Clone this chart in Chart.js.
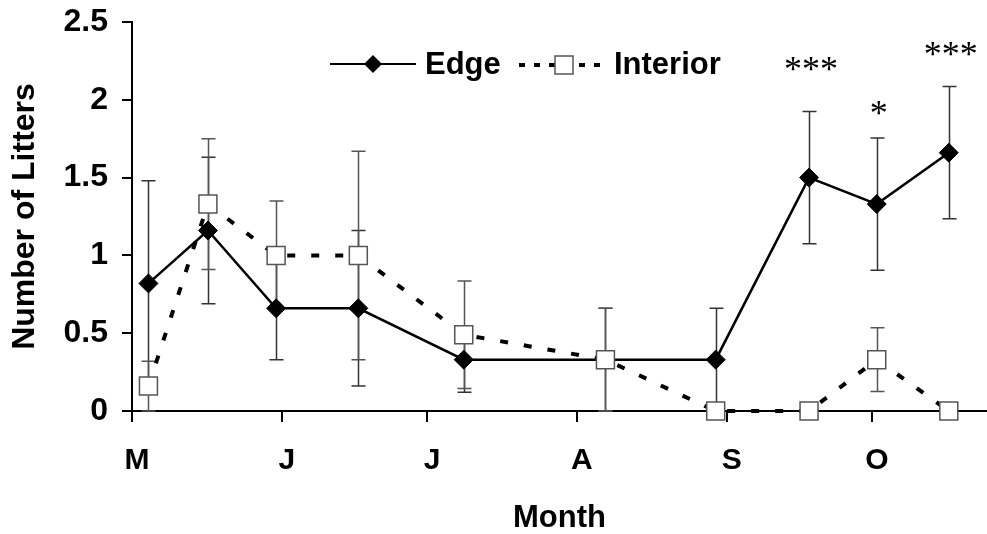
<!DOCTYPE html>
<html>
<head>
<meta charset="utf-8">
<script src="https://cdn.jsdelivr.net/npm/chart.js@4/dist/chart.umd.min.js"></script>
<style>
  html, body { margin: 0; padding: 0; background: #fff; }
  #wrap { width: 987px; height: 534px; position: relative; }
</style>
</head>
<body>
<div id="wrap"><canvas id="c" width="987" height="534"></canvas></div>
<script>
// ---- data ----
const monthTickDays = [0, 31, 61, 92, 123, 153];          // day of season (May 1 = 0)
const monthLabels = ['M', 'J', 'J', 'A', 'S', 'O'];
const sampleDays = [3.4, 15.7, 29.8, 46.8, 68.6, 97.9, 120.7, 140, 154, 168.9];
const edgeMean = [0.82, 1.16, 0.66, 0.66, 0.33, 0.33, 0.33, 1.50, 1.33, 1.66];
const edgeErr = [0.66, 0.47, 0.33, 0.50, 0.21, 0.33, 0.33, 0.425, 0.425, 0.425];
const interiorMean = [0.16, 1.33, 1.00, 1.00, 0.49, 0.33, 0, 0, 0.33, 0];
const interiorErr = [0.16, 0.42, 0.35, 0.67, 0.345, 0.33, 0, 0, 0.205, 0];
const sigLabels = ['', '', '', '', '', '', '', '***', '*', '***'];
const sigLabelY = [0, 0, 0, 0, 0, 0, 0, 2.23, 1.95, 2.33];
const yTicks = [0, 0.5, 1, 1.5, 2, 2.5];

const FONT = "'Liberation Sans', Arial, sans-serif";

const errorBars = {
  id: 'errorBars',
  beforeDatasetsDraw(chart) {
    const { ctx, scales: { x, y } } = chart;
    const sets = [[edgeMean, edgeErr, '#333'], [interiorMean, interiorErr, '#555']];
    ctx.save();
    ctx.lineWidth = 1.5;
    for (const [m, e, col] of sets) {
      ctx.strokeStyle = col;
      sampleDays.forEach((d, i) => {
        if (!e[i]) return;
        const px = Math.round(x.getPixelForValue(d)) + 0.5;
        const t = y.getPixelForValue(m[i] + e[i]);
        const b = y.getPixelForValue(m[i] - e[i]);
        ctx.beginPath();
        ctx.moveTo(px, t); ctx.lineTo(px, b);
        ctx.moveTo(px - 7, t); ctx.lineTo(px + 7, t);
        ctx.moveTo(px - 7, b); ctx.lineTo(px + 7, b);
        ctx.stroke();
      });
    }
    ctx.restore();
  },
  afterDraw(chart) {
    const { ctx, scales: { x, y } } = chart;
    ctx.save();
    // significance stars
    ctx.fillStyle = '#000';
    ctx.font = "36px 'Liberation Serif', 'Times New Roman', serif";
    ctx.textAlign = 'center';
    ctx.textBaseline = 'middle';
    sigLabels.forEach((s, i) => {
      if (!s) return;
      ctx.fillText(s, x.getPixelForValue(sampleDays[i]) + 2, y.getPixelForValue(sigLabelY[i]) + 8);
    });
    // legend
    const ly = 64;
    ctx.strokeStyle = '#000';
    ctx.lineWidth = 2;
    ctx.beginPath(); ctx.moveTo(330, ly); ctx.lineTo(416, ly); ctx.stroke();
    ctx.fillStyle = '#000';
    ctx.beginPath();
    ctx.moveTo(373 - 9, ly); ctx.lineTo(373, ly - 9); ctx.lineTo(373 + 9, ly); ctx.lineTo(373, ly + 9);
    ctx.closePath(); ctx.fill();
    ctx.font = 'bold 31px ' + FONT;
    ctx.textAlign = 'left';
    ctx.textBaseline = 'middle';
    ctx.fillText('Edge', 425, ly + 1);
    ctx.lineWidth = 4;
    ctx.setLineDash([6, 9]);
    ctx.beginPath(); ctx.moveTo(519, ly + 1); ctx.lineTo(601, ly + 1); ctx.stroke();
    ctx.setLineDash([]);
    ctx.fillStyle = '#fff';
    ctx.strokeStyle = '#555';
    ctx.lineWidth = 1.5;
    ctx.fillRect(555, ly - 8, 18, 18);
    ctx.strokeRect(555, ly - 8, 18, 18);
    ctx.fillStyle = '#000';
    ctx.fillText('Interior', 614, ly + 1);
    ctx.restore();
  }
};

new Chart(document.getElementById('c'), {
  type: 'line',
  data: {
    datasets: [
      {
        label: 'Interior',
        data: sampleDays.map((d, i) => ({ x: d, y: interiorMean[i] })),
        borderColor: '#000',
        borderWidth: 4,
        borderDash: [8, 16],
        pointStyle: 'rect',
        pointRadius: 12.7,
        pointBackgroundColor: '#fff',
        pointBorderColor: '#555',
        pointBorderWidth: 1.5,
        tension: 0,
        clip: false
      },
      {
        label: 'Edge',
        data: sampleDays.map((d, i) => ({ x: d, y: edgeMean[i] })),
        borderColor: '#000',
        borderWidth: 2.5,
        pointStyle: 'rectRot',
        pointRadius: 9.5,
        pointBackgroundColor: '#000',
        pointBorderColor: '#000',
        pointBorderWidth: 1,
        tension: 0,
        clip: false
      }
    ]
  },
  options: {
    responsive: false,
    animation: false,
    events: [],
    layout: { autoPadding: false, padding: { top: 22, left: 0, right: 0, bottom: 0 } },
    plugins: { legend: { display: false }, tooltip: { enabled: false } },
    scales: {
      x: {
        type: 'linear',
        min: 0,
        max: 176.8,
        afterFit(s) { s.height = 123; s.paddingLeft = 0; s.paddingRight = 0; },
        afterBuildTicks(s) { s.ticks = monthTickDays.map(v => ({ value: v })); },
        ticks: {
          callback: (v) => monthLabels[monthTickDays.indexOf(v)],
          color: '#000',
          font: { family: FONT, size: 30, weight: 'bold' },
          padding: 21,
          labelOffset: 5,
          maxRotation: 0,
          autoSkip: false
        },
        grid: { drawOnChartArea: false, tickLength: 11, color: '#000', lineWidth: 2 },
        border: { display: true, color: '#000', width: 2 },
        title: {
          display: true,
          text: 'Month',
          color: '#000',
          font: { family: FONT, size: 31, weight: 'bold', lineHeight: 1 },
          padding: { top: 0, bottom: 0 }
        }
      },
      y: {
        min: 0,
        max: 2.5,
        afterFit(s) { s.width = 132; s.paddingTop = 0; s.paddingBottom = 0; },
        afterBuildTicks(s) { s.ticks = yTicks.map(v => ({ value: v })); },
        ticks: {
          color: '#000',
          font: { family: FONT, size: 32, weight: 'bold' },
          padding: 14,
          callback: (v) => String(v)
        },
        grid: { drawOnChartArea: false, tickLength: 10, color: '#000', lineWidth: 2 },
        border: { display: true, color: '#000', width: 2 },
        title: {
          display: true,
          text: 'Number of Litters',
          color: '#000',
          font: { family: FONT, size: 32, weight: 'bold', lineHeight: 1 },
          padding: { top: 9, bottom: 0 }
        }
      }
    }
  },
  plugins: [errorBars]
});
</script>
</body>
</html>
